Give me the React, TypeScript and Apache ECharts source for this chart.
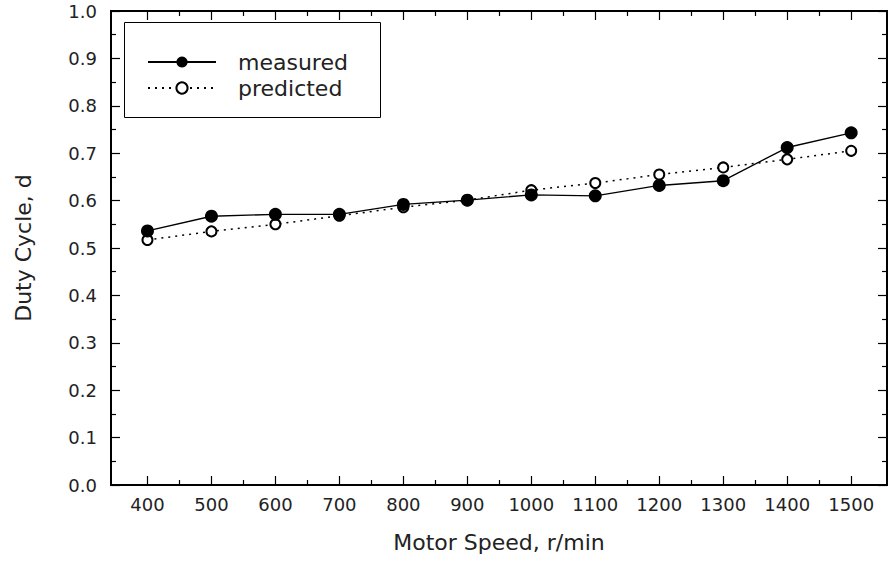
import React, { useEffect, useRef } from "react";
import * as echarts from "echarts";

const speeds = [400, 500, 600, 700, 800, 900, 1000, 1100, 1200, 1300, 1400, 1500];
const measured = [0.536, 0.567, 0.571, 0.571, 0.592, 0.601, 0.612, 0.610, 0.632, 0.642, 0.712, 0.743];
const predicted = [0.517, 0.535, 0.550, 0.568, 0.586, 0.601, 0.622, 0.637, 0.655, 0.670, 0.687, 0.705];
const xMajorTicks = [400, 500, 600, 700, 800, 900, 1000, 1100, 1200, 1300, 1400, 1500];
const xMinorTicks = [450, 550, 650, 750, 850, 950, 1050, 1150, 1250, 1350, 1450];

const FONT = "'DejaVu Sans', sans-serif";
const TXT = "#222";

export default function App() {
  const ref = useRef<HTMLDivElement>(null);
  useEffect(() => {
    if (!ref.current) return;
    const chart = echarts.init(ref.current, undefined, { renderer: "svg" });
    const xMin = 343;
    const xMax = 1556;
    const tickLine = { color: "#000", width: 1.2 };
    const hiddenX = (pos: string, vals: number[], len: number) => ({
      type: "value",
      min: xMin,
      max: xMax,
      position: pos,
      axisLine: { show: false },
      splitLine: { show: false },
      axisLabel: { show: false },
      axisTick: { show: true, inside: true, length: len, customValues: vals, lineStyle: tickLine },
    });
    chart.setOption({
      animation: false,
      backgroundColor: "#fff",
      textStyle: { fontFamily: FONT },
      grid: {
        left: 111,
        right: 2,
        top: 11,
        bottom: 77,
        show: true,
        borderColor: "#000",
        borderWidth: 2,
        backgroundColor: "transparent",
      },
      legend: {
        orient: "vertical",
        left: 147,
        top: 49,
        itemWidth: 68,
        itemHeight: 14,
        itemGap: 0,
        padding: 0,
        data: ["measured", "predicted"],
        textStyle: {
          fontSize: 22,
          lineHeight: 26,
          color: TXT,
          fontFamily: FONT,
          padding: [0, 0, 0, 17],
        },
      },
      graphic: [
        {
          type: "rect",
          shape: { x: 124.5, y: 22.5, width: 256, height: 95 },
          style: { fill: "none", stroke: "#000", lineWidth: 1 },
          z: 10,
        },
      ],
      xAxis: [
        {
          type: "value",
          min: xMin,
          max: xMax,
          position: "bottom",
          axisLine: { show: false },
          splitLine: { show: false },
          axisTick: { show: true, inside: true, length: 9, customValues: xMajorTicks, lineStyle: tickLine },
          axisLabel: {
            customValues: xMajorTicks,
            fontSize: 18,
            color: TXT,
            fontFamily: FONT,
            margin: 10,
            formatter: (v: number) => String(v),
          },
          name: "Motor Speed, r/min",
          nameLocation: "middle",
          nameGap: 46,
          nameTextStyle: { fontSize: 22, color: TXT, fontFamily: FONT },
        },
        hiddenX("bottom", xMinorTicks, 5),
        hiddenX("top", xMajorTicks, 9),
        hiddenX("top", xMinorTicks, 5),
      ],
      yAxis: [
        {
          type: "value",
          min: 0,
          max: 1,
          interval: 0.1,
          position: "left",
          axisLine: { show: false },
          splitLine: { show: false },
          axisTick: { show: true, inside: true, length: 9, lineStyle: tickLine },
          minorTick: { show: true, splitNumber: 2, length: 5, lineStyle: tickLine },
          axisLabel: {
            fontSize: 18,
            color: TXT,
            fontFamily: FONT,
            margin: 14,
            padding: [7, 0, 0, 0],
            formatter: (v: number) => v.toFixed(1),
          },
          name: "Duty Cycle, d",
          nameLocation: "middle",
          nameGap: 77,
          nameTextStyle: { fontSize: 22, color: TXT, fontFamily: FONT },
        },
        {
          type: "value",
          min: 0,
          max: 1,
          interval: 0.1,
          position: "right",
          axisLine: { show: false },
          splitLine: { show: false },
          axisTick: { show: true, inside: true, length: 9, lineStyle: tickLine },
          minorTick: { show: true, splitNumber: 2, length: 5, lineStyle: tickLine },
          axisLabel: { show: false },
        },
      ],
      series: [
        {
          name: "predicted",
          type: "line",
          xAxisIndex: 0,
          yAxisIndex: 0,
          data: speeds.map((s, i) => [s, predicted[i]]),
          symbol: "emptyCircle",
          symbolSize: 10,
          lineStyle: { color: "#000", width: 1.5, type: [2, 5] },
          itemStyle: { color: "#000", borderColor: "#000", borderWidth: 1 },
          z: 2,
        },
        {
          name: "measured",
          type: "line",
          xAxisIndex: 0,
          yAxisIndex: 0,
          data: speeds.map((s, i) => [s, measured[i]]),
          symbol: "circle",
          symbolSize: 13,
          lineStyle: { color: "#000", width: 1.4 },
          itemStyle: { color: "#000" },
          z: 3,
        },
      ],
    });
    return () => chart.dispose();
  }, []);
  return (
    <div
      ref={ref}
      style={{ position: "fixed", left: 0, top: 0, width: 889, height: 562, background: "#fff" }}
    />
  );
}
